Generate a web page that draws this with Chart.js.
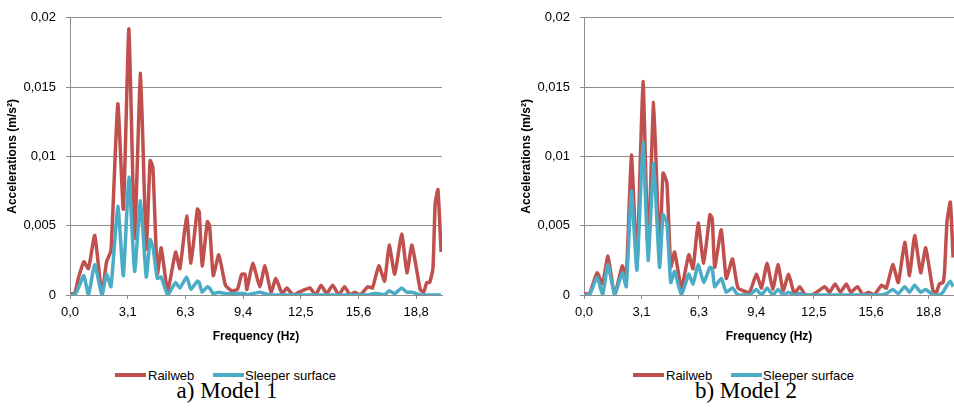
<!DOCTYPE html>
<html>
<head>
<meta charset="utf-8">
<script src="https://cdn.jsdelivr.net/npm/chart.js@4.4.1/dist/chart.umd.min.js"></script>
<style>
    html, body { margin: 0; padding: 0; background: #fff; overflow: hidden; }
    body { width: 954px; height: 413px; position: relative; font-family: 'Liberation Sans', Arial, sans-serif; }
    canvas { position: absolute; top: 0; }
    .leg-line { position: absolute; height: 4px; top: 373px; }
    .leg-text { position: absolute; top: 368px; font-size: 13px; color: #000; white-space: nowrap; }
    .caption { position: absolute; top: 378px; width: 200px; text-align: center; font-family: 'Liberation Serif', 'Times New Roman', serif; font-size: 23px; color: #000; }
</style>
</head>
<body>
<canvas id="chart-model1" width="477" height="350" style="left:0px"></canvas>
<canvas id="chart-model2" width="440" height="350" style="left:514px"></canvas>

<div class="leg-line" style="left:115px; width:31px; background:#C0504D"></div>
<div class="leg-text" style="left:148px">Railweb</div>
<div class="leg-line" style="left:213px; width:31px; background:#4BACC6"></div>
<div class="leg-text" style="left:245px">Sleeper surface</div>
<div class="caption" style="left:127px">a) Model 1</div>

<div class="leg-line" style="left:633px; width:31px; background:#C0504D"></div>
<div class="leg-text" style="left:666px">Railweb</div>
<div class="leg-line" style="left:731px; width:31px; background:#4BACC6"></div>
<div class="leg-text" style="left:763px">Sleeper surface</div>
<div class="caption" style="left:646px">b) Model 2</div>

<script>
// Frequency spectra of the accelerations, two models

const freqTicks = [0, 3.125, 6.25, 9.375, 12.5, 15.625, 18.75];
const freqTickLabels = ['0,0', '3,1', '6,3', '9,4', '12,5', '15,6', '18,8'];
const accTicks = [0, 0.005, 0.01, 0.015, 0.02];
const accTickLabels = ['0', '0,005', '0,01', '0,015', '0,02'];

// Model 1
const freqModel1 = [0, 0.25, 0.45, 0.75, 1.0, 1.34, 1.73, 1.98, 2.22, 2.59, 2.89, 3.19, 3.5, 3.82, 4.13, 4.34, 4.49, 4.73, 4.94, 5.29,
    5.72, 5.95, 6.32, 6.55, 6.9, 7.0, 7.16, 7.44, 7.56, 7.76, 8.06, 8.42, 8.77, 9.07, 9.3, 9.48, 9.58, 9.9, 10.28, 10.56,
    10.89, 11.15, 11.49, 11.74, 12.1, 12.4, 13.0, 13.3, 13.6, 13.9, 14.23, 14.56, 14.87, 15.17, 15.42, 15.72, 16.13, 16.38, 16.73, 17.04,
    17.29, 17.59, 17.97, 18.25, 18.52, 18.97, 19.15, 19.33, 19.48, 19.66, 19.78, 19.93, 20.1];
const railwebModel1 = [0.0001, 0.0001, 0.0012, 0.0024, 0.0019, 0.0043, 0.0, 0.0024, 0.0032, 0.0138, 0.0062, 0.0192, 0.0041, 0.0160, 0.0033, 0.0097, 0.0092, 0.0015, 0.0034, 0.0003,
    0.0031, 0.0019, 0.0057, 0.0023, 0.0062, 0.0060, 0.0021, 0.0053, 0.0050, 0.0014, 0.0029, 0.0007, 0.0003, 0.0004, 0.0015, 0.0015, 0.0004, 0.0023, 0.0006, 0.0021,
    0.0002, 0.0012, 0.0001, 0.0005, 0.0, 0.0002, 0.0005, 0.0, 0.0007, 0.0001, 0.0007, 0.0, 0.0006, 0.0, 0.0002, 0.0, 0.0006, 0.0005, 0.0021, 0.0010,
    0.0036, 0.0015, 0.0044, 0.0016, 0.0036, 0.0004, 0.0002, 0.0009, 0.0009, 0.0019, 0.0066, 0.0076, 0.0031];
const sleeperModel1 = [0, 0, 0.0005, 0.0014, 0.0, 0.0022, 0.0, 0.0015, 0.0006, 0.0064, 0.0014, 0.0085, 0.0017, 0.0068, 0.0013, 0.0040, 0.0035, 0.0012, 0.0013, 0.0,
    0.0009, 0.0005, 0.0013, 0.0004, 0.0010, 0.0009, 0.0002, 0.0006, 0.0005, 0.0001, 0.0002, 0.0001, 0.0001, 0.0001, 0.0001, 0.0001, 0.0, 0.0001, 0.0002, 0.0001,
    0, 0, 0, 0, 0, 0, 0, 0, 0, 0, 0, 0, 0, 0, 0, 0, 0, 0.0001, 0.0001, 0,
    0.0003, 0.0001, 0.0005, 0.0002, 0.0002, 0, 0, 0, 0, 0, 0, 0, 0];

// Model 2
const freqModel2 = [0, 0.3, 0.71, 1.01, 1.3, 1.67, 2.08, 2.3, 2.58, 2.88, 3.21, 3.49, 3.79, 4.11, 4.3, 4.51, 4.72, 4.93, 5.3, 5.7,
    5.93, 6.21, 6.51, 6.85, 6.98, 7.11, 7.47, 7.74, 8.08, 8.38, 9.0, 9.38, 9.66, 9.96, 10.27, 10.56, 10.83, 11.13, 11.44, 11.74,
    12.04, 12.35, 12.55, 13.1, 13.36, 13.66, 13.95, 14.27, 14.52, 14.88, 15.18, 15.48, 15.79, 16.19, 16.45, 16.8, 17.1, 17.45, 17.71, 17.99,
    18.32, 18.59, 18.99, 19.18, 19.33, 19.53, 19.62, 19.75, 19.93, 20.08];
const railwebModel2 = [0.0001, 0.0001, 0.0016, 0.0008, 0.0028, 0.0, 0.0021, 0.0013, 0.0101, 0.0022, 0.0154, 0.0031, 0.0139, 0.0027, 0.0088, 0.0081, 0.0020, 0.0031, 0.0005, 0.0029,
    0.0019, 0.0052, 0.0023, 0.0058, 0.0055, 0.0020, 0.0047, 0.0012, 0.0026, 0.0005, 0.0002, 0.0015, 0.0005, 0.0023, 0.0004, 0.0022, 0.0003, 0.0015, 0.0001, 0.0006,
    0.0, 0.0, 0.0001, 0.0006, 0.0002, 0.0008, 0.0002, 0.0008, 0.0002, 0.0006, 0.0, 0.0002, 0.0, 0.0007, 0.0005, 0.0022, 0.0009, 0.0038, 0.0014, 0.0043,
    0.0016, 0.0034, 0.0003, 0.0002, 0.0008, 0.0009, 0.0018, 0.0053, 0.0067, 0.0027];
const sleeperModel2 = [0, 0, 0.0013, 0.0, 0.0022, 0.0, 0.0016, 0.0006, 0.0075, 0.0018, 0.0110, 0.0025, 0.0095, 0.0020, 0.0058, 0.0052, 0.0009, 0.0017, 0.0, 0.0015,
    0.0008, 0.0022, 0.0009, 0.0020, 0.0019, 0.0006, 0.0012, 0.0002, 0.0005, 0.0, 0.0, 0.0004, 0.0, 0.0005, 0.0, 0.0004, 0.0, 0.0002, 0.0, 0.0001,
    0, 0, 0, 0, 0, 0, 0, 0, 0, 0, 0, 0, 0, 0, 0.0001, 0.0004, 0.0001, 0.0006, 0.0002, 0.0007,
    0.0002, 0.0004, 0.0, 0.0, 0.0, 0.0002, 0.0004, 0.0007, 0.0010, 0.0006];

const RED = '#C0504D';
const BLUE = '#4BACC6';
const GRID = '#8c8c8c';
const FONT = "'Liberation Sans', Arial, sans-serif";

function toPoints(freqs, values) {
    return freqs.map((f, i) => ({ x: f, y: values[i] }));
}

function makeChart(canvasId, freqs, railweb, sleeper, xMax, topPad, rightPad) {
    const canvas = document.getElementById(canvasId);
    return new Chart(canvas, {
        type: 'line',
        data: {
            datasets: [
                {
                    label: 'Railweb',
                    data: toPoints(freqs, railweb),
                    borderColor: RED,
                    backgroundColor: RED,
                    borderWidth: 3.5,
                    pointRadius: 0,
                    tension: 0.15,
                    order: 1
                },
                {
                    label: 'Sleeper surface',
                    data: toPoints(freqs, sleeper),
                    borderColor: BLUE,
                    backgroundColor: BLUE,
                    borderWidth: 3.5,
                    pointRadius: 0,
                    tension: 0.15,
                    order: 0
                }
            ]
        },
        options: {
            responsive: false,
            animation: false,
            devicePixelRatio: 1,
            layout: { padding: { top: topPad, right: rightPad, bottom: 0, left: 0 } },
            plugins: {
                legend: { display: false },
                tooltip: { enabled: false }
            },
            scales: {
                x: {
                    type: 'linear',
                    min: 0,
                    max: xMax,
                    afterBuildTicks: (scale) => { scale.ticks = freqTicks.map(v => ({ value: v })); },
                    afterFit: (scale) => { scale.height = 55; },
                    grid: { drawOnChartArea: false, drawTicks: true, tickLength: 4, color: GRID },
                    border: { display: true, color: GRID, width: 1 },
                    ticks: {
                        autoSkip: false,
                        maxRotation: 0,
                        padding: 6,
                        color: '#000',
                        font: { family: FONT, size: 13 },
                        callback: (value, index) => freqTickLabels[index]
                    },
                    title: {
                        display: true,
                        text: 'Frequency (Hz)',
                        color: '#000',
                        font: { family: FONT, size: 12, weight: 'bold' },
                        padding: { top: 0, bottom: 6 }
                    }
                },
                y: {
                    min: 0,
                    max: 0.02,
                    afterBuildTicks: (scale) => { scale.ticks = accTicks.map(v => ({ value: v })); },
                    afterFit: (scale) => { scale.width = 70; },
                    grid: { color: GRID, drawTicks: true, tickLength: 4 },
                    border: { display: true, color: GRID, width: 1 },
                    ticks: {
                        padding: 10,
                        color: '#000',
                        font: { family: FONT, size: 13 },
                        callback: (value, index) => accTickLabels[index]
                    },
                    title: {
                        display: true,
                        text: 'Accelerations (m/s²)',
                        color: '#000',
                        font: { family: FONT, size: 12, weight: 'bold' },
                        padding: { top: 5, bottom: 0 }
                    }
                }
            }
        }
    });
}

document.addEventListener('DOMContentLoaded', () => {
    // left canvas keeps room on the right, right canvas runs to the window edge
    makeChart('chart-model1', freqModel1, railwebModel1, sleeperModel1, 20.15, 11, 35);
    makeChart('chart-model2', freqModel2, railwebModel2, sleeperModel2, 20.13, 13, 0);
});
</script>
</body>
</html>
